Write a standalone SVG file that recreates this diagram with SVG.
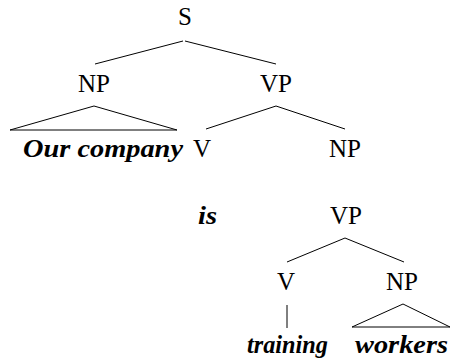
<svg xmlns="http://www.w3.org/2000/svg" width="451" height="359" viewBox="0 0 451 359">
<style>
text{font-family:'Liberation Serif','DejaVu Serif',serif;fill:#000}
.lab{font-size:25px;text-anchor:middle}
.word{font-size:26px;font-weight:bold;font-style:italic}
.e{stroke:#000;stroke-width:1;fill:none}
</style>
<rect width="451" height="359" fill="#fff"/>
<g id="connectors">
<line class="e" x1="183" y1="41" x2="95" y2="64"/>
<line class="e" x1="185" y1="41" x2="276" y2="64"/>
<polyline class="e" points="10,130 94,106 177,130"/>
<line class="e" x1="10" y1="130" x2="177" y2="130"/>
<line class="e" x1="276" y1="106" x2="206" y2="129"/>
<line class="e" x1="276" y1="106" x2="345" y2="129"/>
<line class="e" x1="345" y1="238" x2="287" y2="262"/>
<line class="e" x1="345" y1="238" x2="404" y2="262"/>
<line class="e" x1="287" y1="305" x2="287" y2="328"/>
<polygon class="e" points="352,327 403,304 450,327"/>
</g>
<g id="S"><text class="lab" x="185" y="25">S</text></g>
<g id="NP1"><text class="lab" x="94" y="92">NP</text></g>
<g id="VP1"><text class="lab" x="276" y="92">VP</text></g>
<g id="our-company"><text class="word" x="23" y="157" textLength="160" lengthAdjust="spacingAndGlyphs">Our company</text></g>
<g id="V1"><text class="lab" x="202" y="157">V</text></g>
<g id="NP2"><text class="lab" x="345" y="157">NP</text></g>
<g id="is"><text class="word" x="198" y="224" textLength="19" lengthAdjust="spacingAndGlyphs">is</text></g>
<g id="VP2"><text class="lab" x="346" y="224">VP</text></g>
<g id="V2"><text class="lab" x="286" y="290">V</text></g>
<g id="NP3"><text class="lab" x="402" y="290">NP</text></g>
<g id="training"><text class="word" x="247" y="353" font-size="24" textLength="81" lengthAdjust="spacingAndGlyphs">training</text></g>
<g id="workers"><text class="word" x="355" y="353" font-size="24" textLength="93" lengthAdjust="spacingAndGlyphs">workers</text></g>
</svg>
